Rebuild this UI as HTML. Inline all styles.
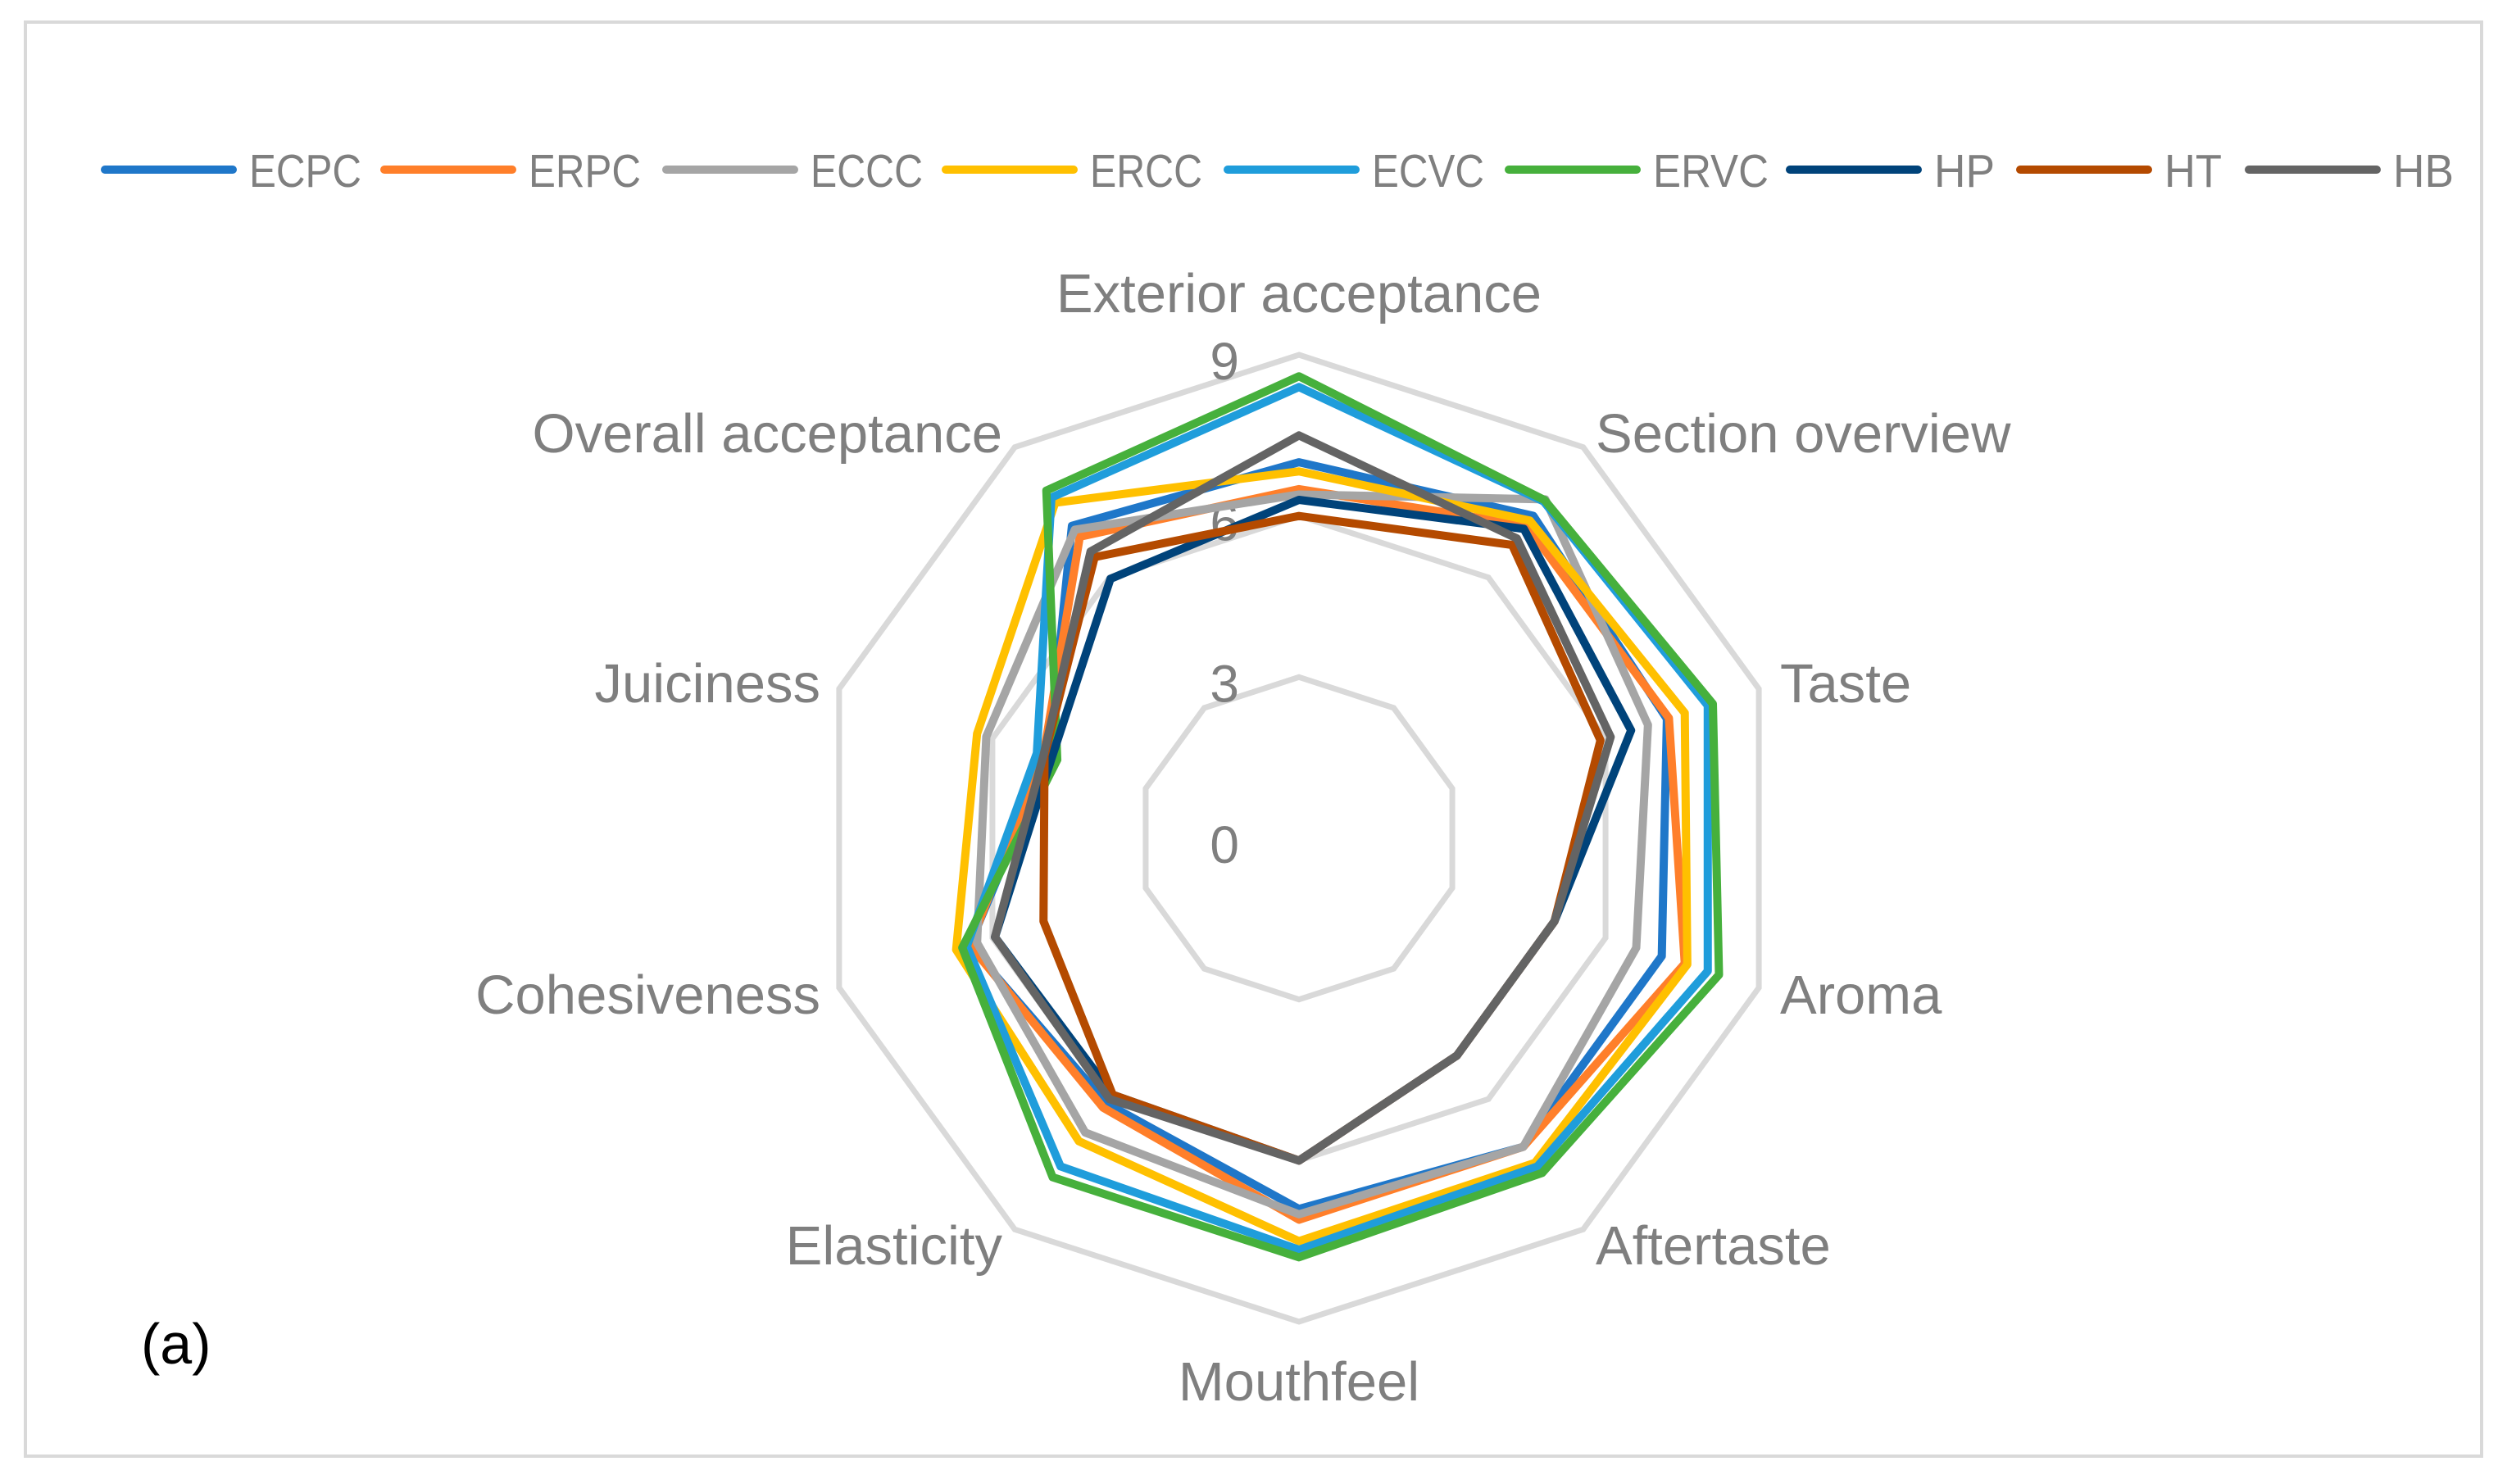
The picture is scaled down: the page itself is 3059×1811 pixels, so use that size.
<!DOCTYPE html>
<html><head><meta charset="utf-8">
<style>
html,body{margin:0;padding:0;background:#fff;}
svg{display:block;font-family:"Liberation Sans",sans-serif;}
</style></head>
<body>
<svg id="chart" width="3059" height="1811" viewBox="0 0 3059 1811" xmlns="http://www.w3.org/2000/svg">
<rect x="31" y="27" width="2997" height="1750" fill="#fff" stroke="#d9d9d9" stroke-width="4"/>
<g id="grid"></g>
<g id="axislabels"></g>
<g id="ticks"></g>
<g id="series"></g>
<g id="legend"></g>
<text x="172" y="1664" font-size="70" fill="#000">(a)</text>
</svg>
<script>
const categories = ["Exterior acceptance","Section overview","Taste","Aroma","Aftertaste","Mouthfeel","Elasticity","Cohesiveness","Juiciness","Overall acceptance"];
const seriesNames = ["ECPC","ERPC","ECCC","ERCC","ECVC","ERVC","HP","HT","HB"];
const seriesColors = ["#1f77c9","#ff7f2a","#a5a5a5","#ffc000","#1f9ddb","#46b03c","#00437a","#b44a00","#646464"];
const ECPC = [7.0, 7.42, 7.2, 7.1, 7.1, 6.9, 6.1, 6.45, 4.9, 7.19];
const ERPC = [6.5, 7.2, 7.24, 7.55, 7.1, 7.1, 6.2, 6.44, 5.0, 6.94];
const ECCC = [6.4, 7.8, 6.83, 6.6, 7.1, 7.0, 6.77, 6.3, 6.12, 7.1];
const ERCC = [6.83, 7.31, 7.55, 7.6, 7.47, 7.5, 6.97, 6.71, 6.3, 7.72];
const ECVC = [8.4, 7.75, 8.0, 8.0, 7.55, 7.66, 7.55, 6.5, 5.13, 7.84];
const ERVC = [8.6, 7.78, 8.1, 8.22, 7.7, 7.8, 7.8, 6.59, 4.73, 8.0];
const HP = [6.3, 7.12, 6.5, 5.0, 5.0, 6.0, 5.9, 5.95, 4.84, 5.97];
const HT = [6.0, 6.75, 5.9, 5.0, 5.0, 6.0, 5.9, 5.0, 4.98, 6.47];
const HB = [7.5, 6.9, 6.1, 5.0, 5.0, 6.0, 6.0, 5.95, 5.0, 6.6];
const seriesValues = [ECPC, ERPC, ECCC, ERCC, ECVC, ERVC, HP, HT, HB];
const tickValues = [0, 3, 6, 9];
const tickLabels = ["0","3","6","9"];

const NS = "http://www.w3.org/2000/svg";
const cx = 1585, cy = 1023, R = 590, vmax = 9;
const N = categories.length;
function ang(i){ return (-90 + 360 * i / N) * Math.PI / 180; }
function rScale(v){ return v / vmax * R; }
function pt(i, v){ const a = ang(i), r = rScale(v); return [cx + r * Math.cos(a), cy + r * Math.sin(a)]; }
function mk(tag, attrs, parent){ const e = document.createElementNS(NS, tag); for (const k in attrs) e.setAttribute(k, attrs[k]); parent.appendChild(e); return e; }

const grid = document.getElementById('grid');
tickValues.forEach(function(t){
  if (t === 0) return;
  const pts = categories.map(function(c, i){ return pt(i, t).join(','); }).join(' ');
  const p = mk('polygon', {points: pts, fill: 'none', stroke: '#d9d9d9', 'stroke-width': 7}, grid);
  
  
});

const ticks = document.getElementById('ticks');
tickValues.forEach(function(t, k){
  const tx = mk('text', {x: 1512, y: cy - rScale(t) + 30, 'text-anchor': 'end', 'font-size': 64, fill: '#7f7f7f'}, ticks);
  tx.textContent = tickLabels[k];
  
  
});

const labelPos = [[1585,381,'middle'],[1947,552,'start'],[2172,857,'start'],[2172,1237,'start'],[1947,1543,'start'],[1585,1709,'middle'],[1223,1543,'end'],[1001,1237,'end'],[1001,857,'end'],[1223,552,'end']];
const al = document.getElementById('axislabels');
categories.forEach(function(c, i){
  const lp = labelPos[i];
  const tx = mk('text', {x: lp[0], y: lp[1], 'text-anchor': lp[2], 'font-size': 67, fill: '#7f7f7f'}, al);
  tx.textContent = c;
  
  
});

const sg = document.getElementById('series');
seriesValues.forEach(function(vals, s){
  const pts = vals.map(function(v, i){ return pt(i, v).join(','); }).join(' ');
  const p = mk('polygon', {points: pts, fill: 'none', stroke: seriesColors[s], 'stroke-width': 10, 'stroke-linejoin': 'round'}, sg);
  
  
});

const lineX = [123, 464, 808, 1149, 1493, 1836, 2179, 2460, 2739];
const textW = [137, 137, 137, 137, 137, 141, 74, 70, 74];
const lg = document.getElementById('legend');
seriesNames.forEach(function(n, s){
  const g = mk('g', {}, lg);
  
  
  mk('line', {x1: lineX[s] + 5, y1: 207, x2: lineX[s] + 161, y2: 207, stroke: seriesColors[s], 'stroke-width': 10, 'stroke-linecap': 'round'}, g);
  const tx = mk('text', {x: lineX[s] + 181, y: 228, 'font-size': 57, fill: '#7f7f7f', textLength: textW[s], lengthAdjust: 'spacingAndGlyphs'}, g);
  tx.textContent = n;
});
</script>
</body></html>
